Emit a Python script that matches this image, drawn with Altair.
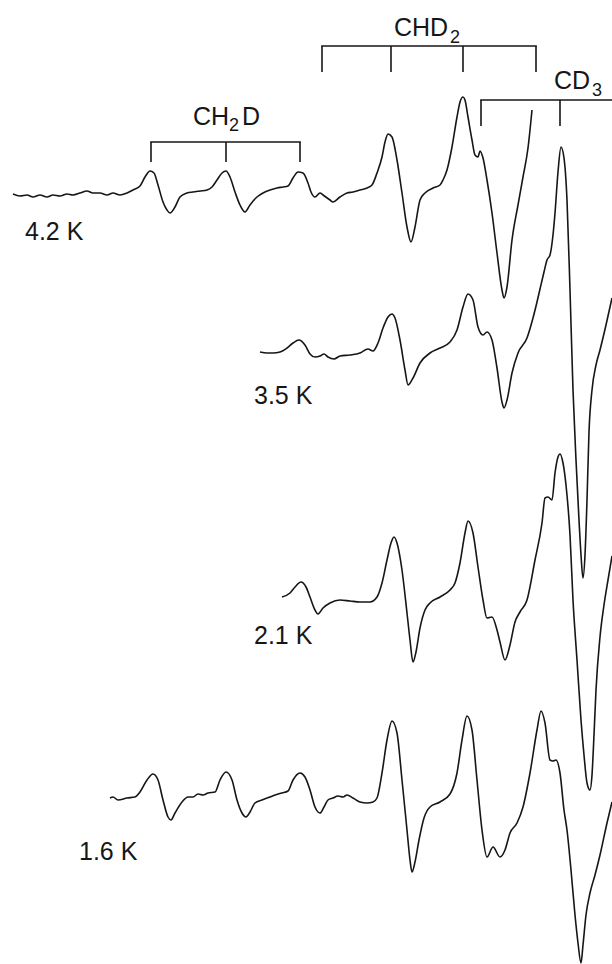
import altair as alt
import pandas as pd

# ESR spectra of deuterated methyl radicals at four temperatures.
# Field runs left to right (arbitrary units); "level" is the drawn trace height,
# measured downward from the top of the figure.

T42_FIELD = [13, 20, 27, 33, 40, 47, 53, 60, 67, 73, 80, 87, 93, 100, 107, 113, 120, 127, 133, 140,
             145, 150, 154, 158, 163, 167, 170, 175, 180, 187, 193, 200, 207, 212, 217, 222, 226, 230,
             235, 240, 245, 250, 257, 263, 270, 277, 283, 288, 293, 298, 303, 308, 311, 315, 320, 323,
             330, 333, 340, 347, 353, 360, 367, 372, 377, 382, 385, 388, 392, 397, 402, 407, 411, 415,
             420, 425, 433, 440, 443, 447, 452, 457, 460, 463, 465, 468, 472, 475, 478, 480, 483, 487,
             492, 497, 502, 504, 507, 512, 518, 523, 528, 532]
T42_LEVEL = [194, 196, 195, 197, 195, 197, 195, 196, 194, 195, 193, 191, 193, 193, 195, 193, 195, 193, 190, 186,
             177, 171, 173, 185, 202, 210, 213, 207, 197, 193, 192, 191, 190, 187, 180, 173, 171, 177,
             192, 205, 212, 205, 197, 193, 190, 188, 187, 186, 178, 172, 173, 183, 192, 197, 193, 195,
             200, 202, 197, 193, 192, 190, 188, 185, 173, 157, 142, 134, 137, 160, 193, 227, 242, 227,
             200, 193, 188, 185, 180, 170, 147, 117, 102, 97, 100, 117, 140, 155, 157, 151, 158, 180,
             213, 253, 290, 298, 287, 240, 205, 177, 148, 110]

T35_FIELD = [260, 267, 273, 280, 287, 293, 299, 305, 310, 315, 320, 324, 328, 334, 340, 350, 360, 368, 373, 378,
             383, 388, 392, 395, 400, 405, 408, 413, 420, 430, 440, 450, 457, 463, 468, 473, 478, 483, 487,
             492, 497, 502, 504, 507, 512, 518, 527, 533, 537, 540, 544, 547, 550, 553, 555, 558, 561, 564,
             567, 570, 573, 576, 579, 581, 583, 585, 587, 589, 592, 596, 600, 606, 612]
T35_LEVEL = [352, 353, 353, 352, 348, 343, 340, 345, 354, 357, 356, 354, 357, 359, 356, 355, 353, 349, 351, 343,
             328, 317, 314, 318, 340, 370, 385, 378, 363, 353, 348, 342, 330, 307, 294, 300, 327, 335, 332,
             340, 368, 402, 408, 400, 373, 353, 338, 318, 302, 289, 272, 260, 255, 235, 213, 172, 147, 158,
             200, 290, 390, 460, 520, 555, 578, 555, 500, 432, 390, 365, 350, 325, 298]

T21_FIELD = [282, 290, 295, 301, 306, 310, 315, 318, 323, 330, 340, 350, 360, 370, 377, 382, 387, 391, 394, 397,
             402, 407, 410, 413, 416, 420, 425, 430, 440, 450, 455, 460, 465, 468, 473, 478, 483, 487, 492,
             497, 500, 505, 510, 515, 520, 527, 535, 542, 545, 548, 552, 555, 558, 560, 563, 566, 570, 573,
             577, 581, 584, 587, 590, 592, 594, 596, 600, 604, 608, 612]
T21_LEVEL = [597, 593, 587, 582, 587, 597, 610, 614, 608, 603, 600, 601, 602, 602, 597, 583, 560, 543, 537, 543,
             570, 613, 640, 662, 652, 628, 610, 603, 597, 590, 583, 563, 533, 521, 533, 567, 600, 618, 617,
             630, 642, 660, 645, 622, 612, 600, 560, 523, 498, 497, 500, 473, 457, 454, 463, 485, 535, 600,
             660, 720, 755, 783, 790, 775, 735, 690, 637, 605, 580, 556]

T16_FIELD = [110, 113, 118, 127, 135, 140, 147, 153, 158, 163, 168, 171, 175, 182, 188, 193, 198, 203, 208, 215,
             220, 226, 232, 237, 242, 246, 250, 255, 262, 270, 275, 282, 288, 293, 300, 305, 310, 315, 320,
             324, 328, 333, 338, 343, 347, 353, 360, 367, 373, 377, 382, 387, 392, 397, 402, 407, 410, 412,
             415, 419, 424, 430, 440, 450, 457, 462, 467, 472, 477, 482, 487, 493, 500, 505, 510, 517, 523,
             530, 537, 541, 545, 550, 553, 556, 560, 564, 567, 571, 575, 578, 581, 583, 586, 590, 595, 600,
             607, 612]
T16_LEVEL = [798, 797, 800, 798, 797, 792, 780, 774, 780, 800, 817, 820, 813, 802, 797, 797, 794, 795, 793, 792,
             780, 772, 780, 800, 813, 817, 812, 803, 800, 797, 795, 793, 791, 780, 773, 777, 790, 807, 813,
             807, 800, 798, 796, 797, 795, 798, 802, 803, 802, 798, 773, 740, 721, 733, 780, 830, 860, 872,
             862, 840, 818, 807, 802, 794, 773, 740, 716, 730, 780, 830, 857, 847, 857, 850, 833, 823, 807,
             773, 730, 711, 723, 760, 761, 760, 773, 810, 830, 870, 915, 943, 963, 945, 915, 893, 875, 855,
             823, 802]

TRACES = [("4.2 K", T42_FIELD, T42_LEVEL), ("3.5 K", T35_FIELD, T35_LEVEL),
          ("2.1 K", T21_FIELD, T21_LEVEL), ("1.6 K", T16_FIELD, T16_LEVEL)]

# Temperature labels: text, left edge, baseline
TEMP_LABELS = ["4.2 K", "3.5 K", "2.1 K", "1.6 K"]
TEMP_LABEL_X = [25, 254, 254, 79]
TEMP_LABEL_Y = [240, 404, 644, 860]

# Stick diagrams: line positions, bar level, tick ends
CH2D_STICKS = [151, 226, 300]
CHD2_STICKS = [322, 391, 463, 536]
CD3_STICKS = [481, 560]
CD3_BAR_END = 612
STICK_BAR = {"CH2D": 142, "CHD2": 46, "CD3": 100}
STICK_TIP = {"CH2D": 162, "CHD2": 72, "CD3": 126}

# Species names as (text, left, baseline, is_subscript) pieces
SPECIES_TEXT = ["CH", "2", "D", "CHD", "2", "CD", "3"]
SPECIES_X = [193, 229, 242, 394, 450, 554, 592]
SPECIES_Y = [125, 131, 125, 36, 43, 89, 96]
SPECIES_SUB = [False, True, False, False, True, False, True]

W, H = 612, 964
FONT = "Liberation Sans"
INK = "#161616"

xs = alt.Scale(domain=[0, W])
ys = alt.Scale(domain=[0, H], reverse=True)

rows = []
for name, f, lv in TRACES:
    for a, b in zip(f, lv):
        rows.append({"trace": name, "field": a, "level": b})
spec_df = pd.DataFrame(rows)

lines = alt.Chart(spec_df).mark_line(
    color=INK, strokeWidth=1.6, interpolate="monotone", clip=True
).encode(
    x=alt.X("field:Q", scale=xs, axis=None),
    y=alt.Y("level:Q", scale=ys, axis=None),
    detail="trace:N",
    order="field:Q",
)

bars, ticks = [], []
for sp, sticks, end in [("CH2D", CH2D_STICKS, max(CH2D_STICKS)),
                        ("CHD2", CHD2_STICKS, max(CHD2_STICKS)),
                        ("CD3", CD3_STICKS, CD3_BAR_END)]:
    bars.append({"x": min(sticks), "x2": end, "y": STICK_BAR[sp]})
    for s in sticks:
        ticks.append({"x": s, "y": STICK_BAR[sp], "y2": STICK_TIP[sp]})

bar_layer = alt.Chart(pd.DataFrame(bars)).mark_rule(
    color=INK, strokeWidth=1.6, clip=True, strokeCap="square"
).encode(
    x=alt.X("x:Q", scale=xs, axis=None), x2="x2:Q",
    y=alt.Y("y:Q", scale=ys, axis=None),
)
tick_layer = alt.Chart(pd.DataFrame(ticks)).mark_rule(
    color=INK, strokeWidth=1.6
).encode(
    x=alt.X("x:Q", scale=xs, axis=None),
    y=alt.Y("y:Q", scale=ys, axis=None), y2="y2:Q",
)

temp_df = pd.DataFrame({"text": TEMP_LABELS, "x": TEMP_LABEL_X, "y": TEMP_LABEL_Y})
temp_layer = alt.Chart(temp_df).mark_text(
    align="left", baseline="alphabetic", font=FONT, fontSize=25, color=INK
).encode(
    x=alt.X("x:Q", scale=xs, axis=None),
    y=alt.Y("y:Q", scale=ys, axis=None),
    text="text:N",
)

sp_df = pd.DataFrame({"text": SPECIES_TEXT, "x": SPECIES_X, "y": SPECIES_Y, "sub": SPECIES_SUB})
main_text = alt.Chart(sp_df[~sp_df["sub"]]).mark_text(
    align="left", baseline="alphabetic", font=FONT, fontSize=25, color=INK
).encode(
    x=alt.X("x:Q", scale=xs, axis=None),
    y=alt.Y("y:Q", scale=ys, axis=None),
    text="text:N",
)
sub_text = alt.Chart(sp_df[sp_df["sub"]]).mark_text(
    align="left", baseline="alphabetic", font=FONT, fontSize=18, color=INK
).encode(
    x=alt.X("x:Q", scale=xs, axis=None),
    y=alt.Y("y:Q", scale=ys, axis=None),
    text="text:N",
)

chart = alt.layer(lines, bar_layer, tick_layer, temp_layer, main_text, sub_text).properties(
    width=W, height=H, padding=0, autosize=alt.AutoSizeParams(type="none"), background="white"
).configure_view(strokeWidth=0)

chart.save("out.html", embed_options={"renderer": "svg", "actions": False})
